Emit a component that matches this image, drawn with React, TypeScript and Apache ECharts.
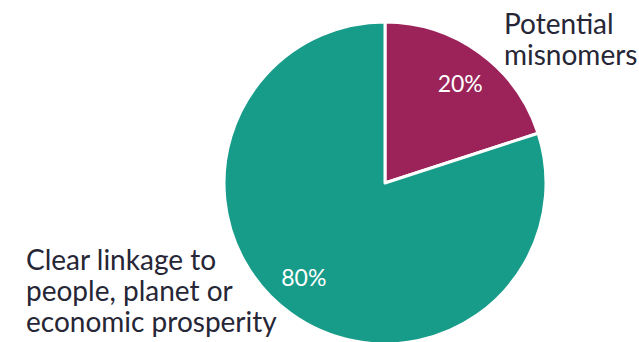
import React, { useEffect, useRef } from "react";
import * as echarts from "echarts";

const categories = ["Potential misnomers", "Clear linkage to people, planet or economic prosperity"];
const labelLines = [["Potential", "misnomers"], ["Clear linkage to", "people, planet or", "economic prosperity"]];
const values = [20, 80];
const colors = ["#9b2359", "#189c8a"];
const labelShift = [[0, 4], [-6, -10]];

export default function App() {
  const ref = useRef<HTMLDivElement>(null);
  useEffect(() => {
    const chart = echarts.init(ref.current!, null, { renderer: "svg" });
    const data = categories.map((c, i) => ({ name: c, value: values[i], itemStyle: { color: colors[i] } }));
    chart.setOption({
      animation: false,
      series: [
        {
          type: "pie",
          center: [385, 183],
          radius: [0, 161],
          startAngle: 90,
          clockwise: true,
          silent: true,
          itemStyle: { borderColor: "#ffffff", borderWidth: 3 },
          label: { show: false },
          labelLine: { show: false },
          data,
        },
        {
          type: "pie",
          center: [385, 183],
          radius: [0, 250],
          startAngle: 90,
          clockwise: true,
          silent: true,
          itemStyle: { color: "rgba(0,0,0,0)", borderWidth: 0 },
          label: {
            show: true,
            position: "inside",
            formatter: "{d}%",
            color: "#ffffff",
            fontSize: 23,
            fontFamily: "Lato",
          },
          labelLayout: (p: any) => ({ dx: labelShift[p.dataIndex][0], dy: labelShift[p.dataIndex][1] }),
          labelLine: { show: false },
          data: categories.map((c, i) => ({ name: c, value: values[i] })),
        },
      ],
      graphic: [
        {
          type: "text",
          left: 504,
          top: 7,
          style: {
            text: labelLines[0].join("\n"),
            fill: "#262636",
            font: "28px Lato",
            lineHeight: 31,
          },
        },
        {
          type: "text",
          left: 26,
          top: 243,
          style: {
            text: labelLines[1].join("\n"),
            fill: "#262636",
            font: "28px Lato",
            lineHeight: 31,
          },
        },
      ],
    });
    return () => chart.dispose();
  }, []);
  return <div ref={ref} style={{ width: 639, height: 342, position: "absolute", left: 0, top: 0 }} />;
}
